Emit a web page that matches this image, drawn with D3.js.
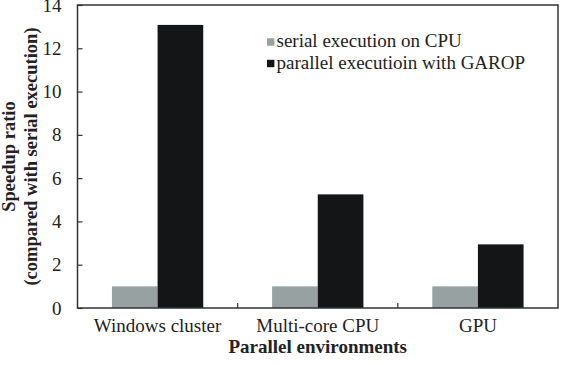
<!DOCTYPE html>
<html>
<head>
<meta charset="utf-8">
<script src="https://cdn.jsdelivr.net/npm/d3@7"></script>
<style>
  body { margin: 0; background: #fff; }
  svg text { font-family: 'Liberation Serif', 'Times New Roman', serif; fill: #222; }
</style>
</head>
<body>
<div id="chart-area"></div>
<script>
// chart data
const categories = ["Windows cluster", "Multi-core CPU", "GPU"];
const seriesNames = ["serial execution on CPU", "parallel executioin with GAROP"];
const serialValues = [1, 1, 1];
const parallelValues = [13.08, 5.25, 2.94];
const yTicks = [0, 2, 4, 6, 8, 10, 12, 14];

const colors = ["#97a1a1", "#131517"];
const serif = "'Liberation Serif', 'Times New Roman', serif";

let margin = {top: 5, right: 7, bottom: 57, left: 77.5};
let width = 565 - margin.left - margin.right,
    height = 365 - margin.top - margin.bottom;

let svg = d3.select("#chart-area").append("svg")
    .attr("width", 565)
    .attr("height", 365)
    .append("g")
    .attr("transform", "translate(" + margin.left + "," + margin.top + ")");

let x = d3.scaleBand()
    .domain(categories)
    .range([0, width])
    .paddingInner(0.43)
    .paddingOuter(0.215);

let xSub = d3.scaleBand()
    .domain([0, 1])
    .range([0, x.bandwidth()]);

let y = d3.scaleLinear()
    .domain([0, 14])
    .range([height, 0]);

let rows = categories.map((c, i) => ({cat: c, values: [serialValues[i], parallelValues[i]]}));

// bars
let groups = svg.selectAll(".group")
    .data(rows)
    .enter().append("g")
    .attr("class", "group")
    .attr("transform", d => "translate(" + x(d.cat) + ",0)");

groups.selectAll("rect")
    .data(d => d.values.map((v, k) => ({k: k, v: v})))
    .enter().append("rect")
    .attr("x", d => xSub(d.k))
    .attr("width", xSub.bandwidth())
    .attr("y", d => y(d.v))
    .attr("height", d => height - y(d.v))
    .attr("fill", d => colors[d.k]);

// y axis, ticks pointing inward
let yAxis = svg.append("g")
    .call(d3.axisLeft(y).tickValues(yTicks).tickSizeInner(-5).tickSizeOuter(0).tickPadding(16));
yAxis.attr("font-family", serif).attr("font-size", 19);
yAxis.select(".domain").remove();
yAxis.selectAll("line").attr("stroke", "#333").attr("stroke-width", 1.2);
yAxis.selectAll("text").attr("fill", "#222");

// category separator ticks on x axis
let step = x.step();
let sepPositions = categories.slice(1).map(c => x(c) - x.paddingInner() * step / 2);
svg.selectAll(".sep")
    .data(sepPositions)
    .enter().append("line")
    .attr("x1", d => d).attr("x2", d => d)
    .attr("y1", height).attr("y2", height - 5)
    .attr("stroke", "#333").attr("stroke-width", 1.2);

// x labels
svg.selectAll(".xlab")
    .data(categories)
    .enter().append("text")
    .attr("x", d => x(d) + x.bandwidth() / 2)
    .attr("y", height + 24)
    .attr("text-anchor", "middle")
    .style("font-size", "19px")
    .text(d => d);

// frame
svg.append("rect")
    .attr("width", width)
    .attr("height", height)
    .attr("fill", "none")
    .attr("stroke", "#333")
    .attr("stroke-width", 1.5);

// axis titles
svg.append("text")
    .attr("x", width / 2)
    .attr("y", height + 45)
    .attr("text-anchor", "middle")
    .style("font-size", "19px")
    .style("font-weight", "bold")
    .text("Parallel environments");

let yt = svg.append("text")
    .attr("transform", "rotate(-90)")
    .attr("text-anchor", "middle")
    .style("font-size", "18.5px")
    .style("font-weight", "bold");
yt.append("tspan").attr("x", -height / 2).attr("y", -62.5).text("Speedup ratio");
yt.append("tspan").attr("x", -height / 2).attr("y", -40.5).text("(compared with serial execution)");

// legend
let legend = svg.selectAll(".legend")
    .data(seriesNames)
    .enter().append("g")
    .attr("class", "legend")
    .attr("transform", (d, i) => "translate(" + (267 - margin.left) + "," + (38.3 - margin.top + i * 21.5) + ")");

legend.append("rect")
    .attr("width", 7.4)
    .attr("height", 7.4)
    .attr("fill", (d, i) => colors[i]);

legend.append("text")
    .attr("x", 9.5)
    .attr("y", 9)
    .style("font-size", "19px")
    .text(d => d);
</script>
</body>
</html>
